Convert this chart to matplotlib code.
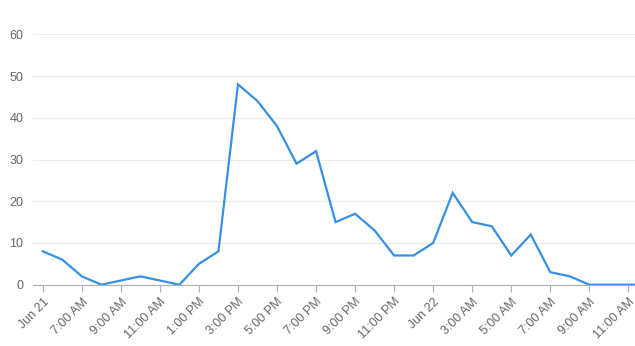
import matplotlib
matplotlib.use("Agg")
import matplotlib.pyplot as plt

plt.rcParams["font.family"] = ["Liberation Sans", "DejaVu Sans"]

# hourly counts, Jun 21 5:00 AM .. Jun 22 12:00 PM
values = [8, 6, 2, 0, 1, 2, 1, 0, 5, 8, 48, 44, 38, 29, 32, 15, 17, 13, 7, 7,
          10, 22, 15, 14, 7, 12, 3, 2, 0, 0, 0, 0]
tick_labels = ["Jun 21", "7:00 AM", "9:00 AM", "11:00 AM", "1:00 PM", "3:00 PM",
               "5:00 PM", "7:00 PM", "9:00 PM", "11:00 PM", "Jun 22", "3:00 AM",
               "5:00 AM", "7:00 AM", "9:00 AM", "11:00 AM"]
y_ticks = [0, 10, 20, 30, 40, 50, 60]

fig = plt.figure(figsize=(6.35, 3.46), dpi=100)
ax = fig.add_axes([0.052, 0.1754, 0.948, 0.7254])

for s in ["top", "right", "left"]:
    ax.spines[s].set_visible(False)
ax.spines["bottom"].set_color("#b0b0b0")
ax.spines["bottom"].set_position(("data", 0))

x = list(range(len(values)))
ax.plot(x, values, color="#3590e8", lw=1.6, zorder=3, solid_joinstyle="miter")
ax.set_xlim(-0.5, 30.34)
ax.set_ylim(-0.15, 60)

ax.set_yticks(y_ticks)
ax.set_yticklabels([str(v) for v in y_ticks])
ax.set_xticks(range(0, 31, 2))
ax.set_xticklabels(tick_labels, rotation=45, ha="right", va="top",
                   rotation_mode="anchor")

ax.grid(axis="y", color="#ececec", lw=0.8)
ax.set_axisbelow(True)
ax.tick_params(axis="y", length=0, pad=7, labelsize=9, labelcolor="#666666")
ax.tick_params(axis="x", length=5, color="#b0b0b0", pad=3, labelsize=9,
               labelcolor="#666666")

fig.savefig("out.png", dpi=100)
